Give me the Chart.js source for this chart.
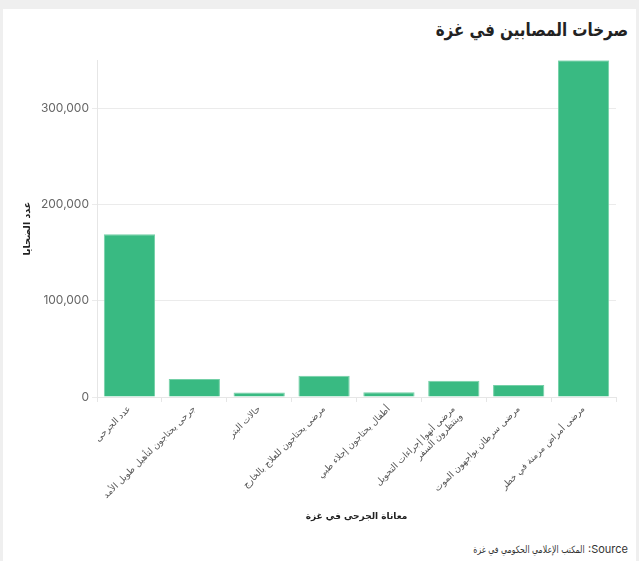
<!DOCTYPE html>
<html><head><meta charset="utf-8">
<script src="https://cdn.jsdelivr.net/npm/chart.js@4"></script>
<style>
html,body{margin:0;padding:0;background:#efefef;width:639px;height:561px;overflow:hidden;font-family:Inter,"DejaVu Sans",sans-serif;}
#card{position:absolute;left:3px;top:9px;width:633px;height:552px;background:#fff;}
#title{position:absolute;right:8px;top:10px;font-size:18px;font-weight:bold;color:#222;direction:rtl;white-space:nowrap;transform:scaleX(0.84);transform-origin:right center;font-family:"DejaVu Sans",sans-serif;}
#src{position:absolute;right:8px;top:533px;font-size:11px;color:#333;direction:ltr;white-space:nowrap;}
#src bdi{display:inline-block;font-family:"DejaVu Sans",sans-serif;font-size:10px;transform:scaleX(0.78);transform-origin:right center;}
#wrap{position:absolute;left:0;top:41px;width:633px;height:474px;}
</style></head>
<body>
<div id="card">
<div id="title">صرخات المصابين في غزة</div>
<div id="wrap"><canvas id="c" width="633" height="474"></canvas></div>
<div id="src"><bdi>المكتب الإعلامي الحكومي في غزة</bdi> :Source</div>
</div>
<script>
const categories = [
  'عدد الجرحى',
  'جرحى يحتاجون لتأهيل طويل الأمد',
  'حالات البتر',
  'مرضى يحتاجون للعلاج بالخارج',
  'أطفال يحتاجون إجلاء طبي',
  ['مرضى أنهوا إجراءات التحويل', 'وينتظرون السفر'],
  'مرضى سرطان يواجهون الموت',
  'مرضى أمراض مزمنة في خطر'
];
const victims = [169000, 18800, 4700, 22000, 5000, 17000, 12500, 350000];
const yTicks = [0, 100000, 200000, 300000];
const yAxisTitle = 'عدد الضحايا';
const xAxisTitle = 'معاناة الجرحى في غزة';

new Chart(document.getElementById('c'), {
  type: 'bar',
  data: {
    labels: categories,
    datasets: [{
      data: victims,
      backgroundColor: '#39ba82',
      borderColor: '#74d0a7',
      borderWidth: 1,
      categoryPercentage: 1,
      barPercentage: 0.79
    }]
  },
  options: {
    responsive: false,
    animation: false,
    layout: { padding: { top: 10, right: 20, left: 0, bottom: 0 } },
    plugins: { legend: { display: false }, tooltip: { enabled: false } },
    scales: {
      x: {
        afterFit: s => { s.height = 127; },
        grid: { drawOnChartArea: false, color: '#e6e6e6', tickLength: 5 },
        border: { color: '#e6e6e6' },
        ticks: { minRotation: 45, maxRotation: 45, autoSkip: false, color: '#555', font: { size: 9, family: 'DejaVu Sans', lineHeight: 1.15 }, padding: 2 },
        title: { display: true, text: xAxisTitle, color: '#222', font: { size: 9, weight: 'bold', family: 'DejaVu Sans' }, padding: { top: 4, bottom: 2 } }
      },
      y: {
        min: 0,
        max: 350000,
        afterFit: s => { s.width = 94; },
        afterBuildTicks: axis => { axis.ticks = yTicks.map(v => ({ value: v })); },
        grid: { color: '#ebebeb', tickLength: 5 },
        border: { color: '#e6e6e6' },
        ticks: { color: '#666', font: { size: 12, family: 'Inter' }, padding: 3,
          callback: v => v.toLocaleString('en-US') },
        title: { display: true, text: yAxisTitle, color: '#222', font: { size: 9.5, weight: 'bold', family: 'DejaVu Sans' }, padding: { top: 19, bottom: 4 } }
      }
    }
  }
});
</script>
</body></html>
